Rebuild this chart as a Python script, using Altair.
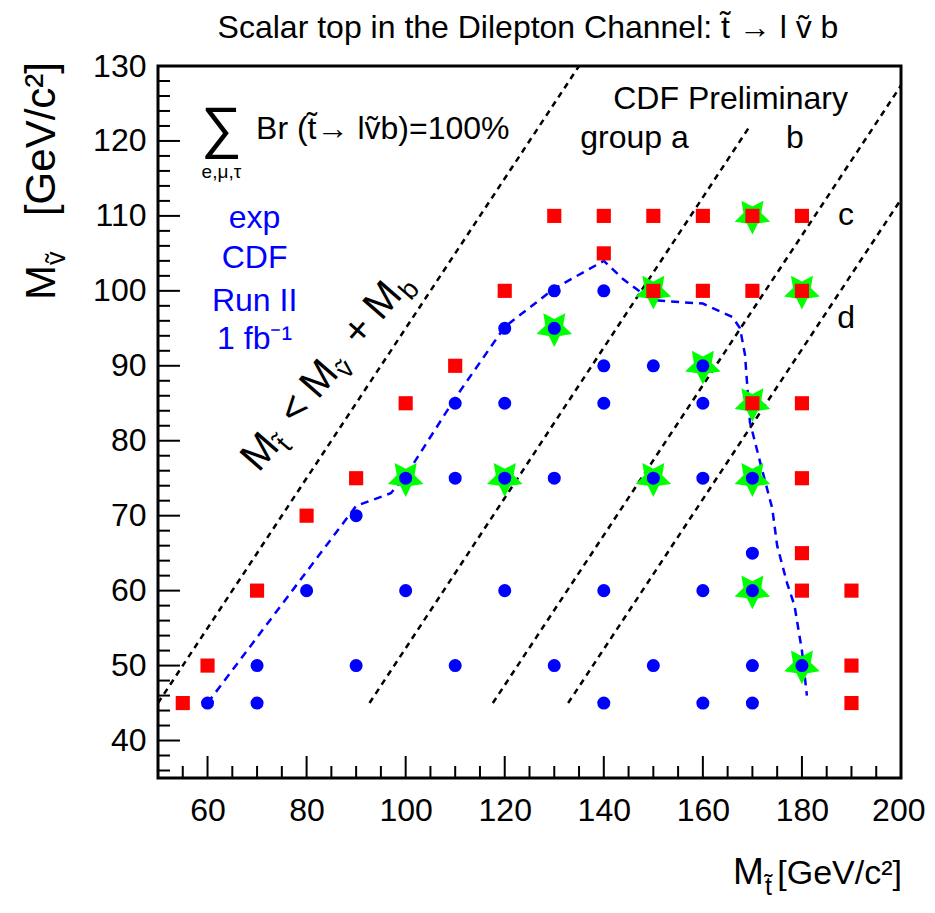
import math
import altair as alt
import pandas as pd

# ---------------- data ----------------
red_x = [55, 60, 70, 80, 90, 100, 110, 120, 130, 140, 140, 150, 160, 170, 180,
         150, 160, 170, 180, 170, 180, 180, 180, 180, 190, 190, 190]
red_y = [45, 50, 60, 70, 75, 85, 90, 100, 110, 110, 105, 110, 110, 110, 110,
         100, 100, 100, 100, 85, 85, 75, 65, 60, 60, 50, 45]

blue_x = [60, 70, 70, 80, 90, 90, 100, 100, 110, 110, 110, 120, 120, 120, 120,
          130, 130, 130, 130, 140, 140, 140, 140, 140, 150, 150, 150,
          160, 160, 160, 160, 160, 170, 170, 170, 170, 170, 180]
blue_y = [45, 45, 50, 60, 70, 50, 75, 60, 75, 85, 50, 75, 85, 95, 60,
          95, 100, 75, 50, 100, 90, 85, 60, 45, 90, 75, 50,
          90, 85, 75, 60, 45, 75, 65, 60, 50, 45, 50]

star_x = [100, 120, 130, 150, 170, 160, 170, 180, 150, 170, 170, 180]
star_y = [75, 75, 95, 100, 110, 90, 85, 100, 75, 75, 60, 50]

# expected CDF limit contour (blue dashed)
cont_x = [60, 90, 97, 100, 110, 120, 130, 140, 144, 148.5, 151, 160, 166,
          167.5, 168.5, 169.5, 172, 174, 175, 177, 178.5, 180, 181]
cont_y = [45, 71.3, 73, 75.3, 85.7, 95.2, 100.3, 104, 101.5, 99.3, 98.7, 98.3,
          96.5, 95, 91.5, 82.5, 76, 71, 66, 61, 58, 52, 46]

# black dashed group boundaries
seg_x1 = [50, 92.7, 117.6, 132.8]
seg_y1 = [45, 45, 45, 45]
seg_x2 = [135, 169.5, 200, 200]
seg_y2 = [130, 122, 127.4, 112.2]

x_major = [60, 80, 100, 120, 140, 160, 180, 200]
y_major = [40, 50, 60, 70, 80, 90, 100, 110, 120, 130]
x_minor = [v for v in range(55, 200, 5) if v % 20 != 0]
y_minor = [v for v in range(36, 130, 2) if v % 10 != 0]

# ---------------- layout ----------------
W, H = 743, 712
XD, YD = [50, 200], [35, 130]
FONT = "Liberation Sans"
xs = alt.Scale(domain=XD, nice=False, zero=False)
ys = alt.Scale(domain=YD, nice=False, zero=False)

AX = alt.Axis(values=x_major, ticks=False, domain=False, grid=False, title=None,
              labelFont=FONT, labelFontSize=32, labelColor="black",
              labelPadding=17, labelFlush=True, labelFlushOffset=24, labelOverlap=False)
AY = alt.Axis(values=y_major, ticks=False, domain=False, grid=False, title=None,
              labelFont=FONT, labelFontSize=32, labelColor="black",
              labelPadding=12, labelFlush=False, labelOverlap=False)

STAR = ("M0,1L-0.2939,0.4045L-0.9511,0.309L-0.4755,-0.1545L-0.5878,-0.809L0,-0.5"
        "L0.5878,-0.809L0.4755,-0.1545L0.9511,0.309L0.2939,0.4045Z")


def X(f="x"):
    return alt.X(f"{f}:Q", scale=xs, axis=AX, title=None)


def Y(f="y"):
    return alt.Y(f"{f}:Q", scale=ys, axis=AY, title=None)


# inward ticks
xmaj = alt.Chart(pd.DataFrame({"v": x_major[:-1]})).mark_rule(color="black", strokeWidth=2).encode(
    x=X("v"), y=alt.value(H), y2=alt.value(H - 22))
xmin = alt.Chart(pd.DataFrame({"v": x_minor})).mark_rule(color="black", strokeWidth=2).encode(
    x=X("v"), y=alt.value(H), y2=alt.value(H - 12))
ymaj = alt.Chart(pd.DataFrame({"v": y_major[:-1]})).mark_rule(color="black", strokeWidth=2).encode(
    y=Y("v"), x=alt.value(0), x2=alt.value(22))
ymin = alt.Chart(pd.DataFrame({"v": y_minor})).mark_rule(color="black", strokeWidth=2).encode(
    y=Y("v"), x=alt.value(0), x2=alt.value(12))

segs = alt.Chart(pd.DataFrame({"x": seg_x1, "y": seg_y1, "x2": seg_x2, "y2": seg_y2})).mark_rule(
    color="black", strokeWidth=2.5, strokeDash=[6, 5], clip=True).encode(
    x=X("x"), y=Y("y"), x2="x2:Q", y2="y2:Q")

contour = alt.Chart(pd.DataFrame({"x": cont_x, "y": cont_y, "i": list(range(len(cont_x)))})).mark_line(
    color="#0000ff", strokeWidth=2.5, strokeDash=[8, 6]).encode(
    x=X(), y=Y(), order="i:Q")

stars = alt.Chart(pd.DataFrame({"x": star_x, "y": star_y})).mark_point(
    shape=STAR, filled=True, color="#00ff00", opacity=1, size=1400).encode(x=X(), y=Y())
reds = alt.Chart(pd.DataFrame({"x": red_x, "y": red_y})).mark_point(
    shape="square", filled=True, color="#ff0000", opacity=1, size=200).encode(x=X(), y=Y())
blues = alt.Chart(pd.DataFrame({"x": blue_x, "y": blue_y})).mark_point(
    shape="circle", filled=True, color="#0000ff", opacity=1, size=170).encode(x=X(), y=Y())


def txt(xv, yv, tv, **kw):
    d = pd.DataFrame({"x": xv, "y": yv, "t": tv})
    kw.setdefault("font", FONT)
    kw.setdefault("color", "black")
    return alt.Chart(d).mark_text(**kw).encode(x=X(), y=Y(), text="t:N")


def ptxt(px, py, t, **kw):
    kw.setdefault("font", FONT)
    kw.setdefault("color", "black")
    return alt.Chart(pd.DataFrame({"t": [t]})).mark_text(**kw).encode(
        x=alt.value(px), y=alt.value(py), text="t:N")


NU = "\u1e7d"      # nu-like letter with tilde
TT = "t\u0303"     # t with tilde

labels_black = txt([165.6, 146.2, 178.6, 188.9, 188.9], [124.2, 119.1, 119.1, 108.8, 95.1],
                   ["CDF Preliminary", "group a", "b", "c", "d"],
                   fontSize=32, align="center", baseline="alphabetic")
labels_blue = txt([69.5, 69.5, 69.5, 69.5], [108.4, 103.1, 97.3, 92.2],
                  ["exp", "CDF", "Run II", "1 fb\u207b\u00b9"],
                  fontSize=32, align="center", baseline="alphabetic", color="#0000ff")
sigma = txt([62.8], [121.5], ["\u2211"], fontSize=57, align="center", baseline="middle")
sigma_sub = txt([62.8], [115.1], ["e,\u03bc,\u03c4"], fontSize=19, align="center", baseline="alphabetic")
br = txt([69.8], [120.2], [f"Br ({TT}\u2192 l{NU}b)=100%"], fontSize=32, align="left",
         baseline="alphabetic")

# rotated label near the kinematic boundary
ppx, ppy = W / (XD[1] - XD[0]), H / (YD[1] - YD[0])
a_pos = math.radians(51.0)     # direction along which the pieces are laid out
a_rot = math.radians(49.0)     # tilt of the glyphs
ux, uy = math.cos(a_pos) / ppx, math.sin(a_pos) / ppy
nx, ny = math.sin(a_rot) / ppx, -math.cos(a_rot) / ppy
bx, by = 70.3, 75.65
ang = 360 - math.degrees(a_rot)
main_pieces = [("M", 0), ("<", 60), ("M", 94), ("+", 161), ("M", 195)]
sub_pieces = [(TT, 35, 10), (NU, 129, 10), ("b", 230, 10)]
rot_main = txt([bx + s * ux for _, s in main_pieces], [by + s * uy for _, s in main_pieces],
               [t for t, _ in main_pieces], fontSize=41, angle=ang, align="left", baseline="alphabetic")
rot_sub = txt([bx + s * ux + p * nx for _, s, p in sub_pieces], [by + s * uy + p * ny for _, s, p in sub_pieces],
              [t for t, _, _ in sub_pieces], fontSize=27, angle=ang, align="left", baseline="alphabetic")

# titles
title = ptxt(370, -28, f"Scalar top in the Dilepton Channel: {TT} \u2192 l {NU} b",
             fontSize=32, align="center", baseline="alphabetic")
xt_m = ptxt(575, 818, "M", fontSize=37, align="left", baseline="alphabetic")
xt_s = ptxt(607, 829, TT, fontSize=25, align="left", baseline="alphabetic")
xt_u = ptxt(744, 818, "[GeV/c\u00b2]", fontSize=34, align="right", baseline="alphabetic")
yt_m = ptxt(-103, 234, "M", fontSize=42, angle=270, align="left", baseline="alphabetic")
yt_s = ptxt(-93, 199, NU, fontSize=27, angle=270, align="left", baseline="alphabetic")
yt_u = ptxt(-103, -4, "[GeV/c\u00b2]", fontSize=42, angle=270, align="right", baseline="alphabetic")

chart = alt.layer(
    xmin, xmaj, ymin, ymaj, segs, contour, stars, reds, blues,
    labels_black, labels_blue, sigma, sigma_sub, br, rot_main, rot_sub,
    title, xt_m, xt_s, xt_u, yt_m, yt_s, yt_u,
).properties(
    width=W, height=H,
    padding={"left": 150, "top": 58, "right": 26, "bottom": 124},
    autosize=alt.AutoSizeParams(type="none"),
    background="white",
).configure_view(stroke="black", strokeWidth=3)

chart.save("out.html", embed_options={"renderer": "svg", "actions": False})
